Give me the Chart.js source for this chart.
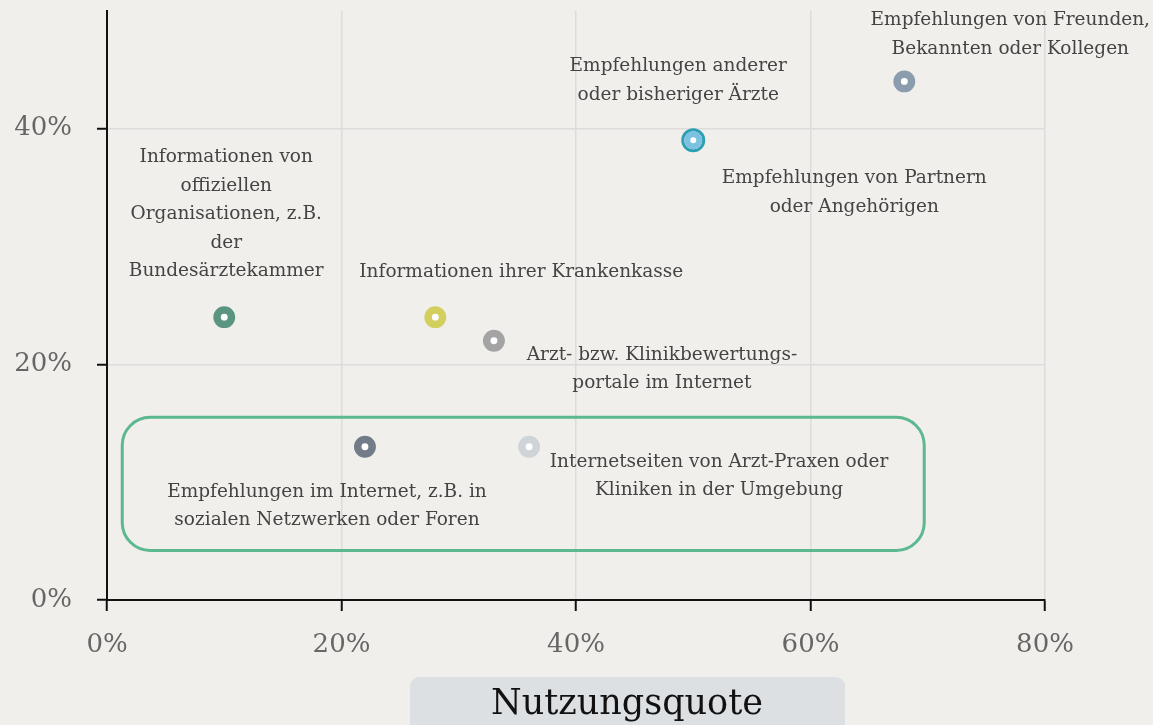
<!DOCTYPE html>
<html>
<head>
<meta charset="utf-8">
<script src="https://cdn.jsdelivr.net/npm/chart.js@4"></script>
<style>
  html, body { margin: 0; padding: 0; background: #f0efeb; overflow: hidden; }
  #wrap { position: relative; top: -4px; width: 1153px; height: 729px; }
</style>
</head>
<body>
<div id="wrap"><canvas id="chart"></canvas></div>
<script>
// Sources of doctor recommendations: usage rate (x) vs. trust (y), in percent
const sources = [
    ['Informationen von', 'offiziellen', 'Organisationen, z.B.', 'der', 'Bundesärztekammer'],
    ['Informationen ihrer Krankenkasse'],
    ['Arzt- bzw. Klinikbewertungs-', 'portale im Internet'],
    ['Empfehlungen anderer', 'oder bisheriger Ärzte'],
    ['Empfehlungen von Partnern', 'oder Angehörigen'],
    ['Empfehlungen von Freunden,', 'Bekannten oder Kollegen'],
    ['Empfehlungen im Internet, z.B. in', 'sozialen Netzwerken oder Foren'],
    ['Internetseiten von Arzt-Praxen oder', 'Kliniken in der Umgebung']
];
const usage = [10, 28, 33, 50, 50, 68, 22, 36];
const rating = [24, 24, 22, 39, 39, 44, 13, 13];
const xTicks = [0, 20, 40, 60, 80];
const yTicks = [0, 20, 40];

// highlighted group (the two internet sources), in data units
const boxX = [1.3, 69.7];
const boxY = [4.2, 15.5];

// styles
const colors = ['#5b9581', '#d3cf5e', '#a4a4a4', '#7cc1df', '#2f9fb4', '#8b9caf', '#727c88', '#cfd4d8'];
const radii = [7.2, 7.2, 7.2, 6, 10.5, 7.2, 7.2, 7.2];
const rings = [7.5, 7.5, 7.5, 6, 3, 7.5, 7.5, 7.5];
// label placement relative to point: [dx, dy of first line]
const labelOffsets = [[2, -160], [86, -45], [168, 14], [-15, -74], [161, 38], [106, -61], [-38, 45], [190, 15]];

const FONT = '"DejaVu Serif", serif';

const datasets = sources.map((s, i) => ({
    label: s.join(' '),
    data: [{ x: usage[i], y: rating[i] }],
    backgroundColor: '#ffffff',
    borderColor: colors[i],
    borderWidth: rings[i],
    pointRadius: radii[i],
    pointHoverRadius: radii[i]
}));

function roundRect(ctx, x, y, w, h, r) {
    ctx.beginPath();
    ctx.moveTo(x + r, y);
    ctx.arcTo(x + w, y, x + w, y + h, r);
    ctx.arcTo(x + w, y + h, x, y + h, r);
    ctx.arcTo(x, y + h, x, y, r);
    ctx.arcTo(x, y, x + w, y, r);
    ctx.closePath();
}

const decorPlugin = {
    id: 'decor',
    beforeDatasetsDraw(chart) {
        const { ctx, scales } = chart;
        const x1 = scales.x.getPixelForValue(boxX[0]);
        const x2 = scales.x.getPixelForValue(boxX[1]);
        const y1 = scales.y.getPixelForValue(boxY[1]);
        const y2 = scales.y.getPixelForValue(boxY[0]);
        ctx.save();
        roundRect(ctx, x1, y1, x2 - x1, y2 - y1, 28);
        ctx.strokeStyle = '#5bb88f';
        ctx.lineWidth = 3;
        ctx.stroke();
        ctx.restore();
    },
    afterDatasetsDraw(chart) {
        const { ctx, scales } = chart;
        ctx.save();
        ctx.font = '18.5px ' + FONT;
        ctx.fillStyle = '#444444';
        ctx.textAlign = 'center';
        ctx.textBaseline = 'middle';
        sources.forEach((lines, i) => {
            const px = scales.x.getPixelForValue(usage[i]) + labelOffsets[i][0];
            const py = scales.y.getPixelForValue(rating[i]) + labelOffsets[i][1];
            lines.forEach((line, k) => ctx.fillText(line, px, py + k * 28.6));
        });
        ctx.restore();
    },
    afterDraw(chart) {
        // axis title box, placed below the x axis
        const { ctx, chartArea } = chart;
        const top = chartArea.bottom + 77;
        ctx.save();
        roundRect(ctx, 410, top, 435, 70, 9);
        ctx.fillStyle = '#dde0e3';
        ctx.fill();
        ctx.font = '35px ' + FONT;
        ctx.fillStyle = '#111111';
        ctx.textAlign = 'center';
        ctx.textBaseline = 'middle';
        ctx.fillText('Nutzungsquote', 627, top + 28);
        ctx.restore();
    }
};

new Chart(document.getElementById('chart'), {
    type: 'scatter',
    data: { datasets },
    plugins: [decorPlugin],
    options: {
        responsive: true,
        maintainAspectRatio: false,
        animation: false,
        layout: { padding: { top: 10, right: 108, left: 0, bottom: 0 } },
        plugins: {
            legend: { display: false },
            tooltip: { enabled: false }
        },
        scales: {
            x: {
                type: 'linear',
                min: 0,
                max: 80,
                afterBuildTicks: s => { s.ticks = xTicks.map(v => ({ value: v })); },
                afterFit: s => { s.height = 125; s.paddingLeft = 0; s.paddingRight = 0; },
                grid: { color: '#dcdcdc', lineWidth: 1.5, tickColor: '#111', tickWidth: 2, tickLength: 11 },
                border: { color: '#111', width: 2 },
                ticks: {
                    padding: 19,
                    color: '#666',
                    font: { family: FONT, size: 26 },
                    callback: v => v + '%'
                }
            },
            y: {
                type: 'linear',
                min: 0,
                max: 50,
                afterBuildTicks: s => { s.ticks = yTicks.map(v => ({ value: v })); },
                afterFit: s => { s.width = 107; s.paddingTop = 0; s.paddingBottom = 0; },
                grid: { color: '#dcdcdc', lineWidth: 1.5, tickColor: '#111', tickWidth: 2, tickLength: 10 },
                border: { color: '#111', width: 2 },
                ticks: {
                    padding: 25,
                    color: '#666',
                    font: { family: FONT, size: 26 },
                    callback: v => v + '%'
                }
            }
        }
    }
});
</script>
</body>
</html>
